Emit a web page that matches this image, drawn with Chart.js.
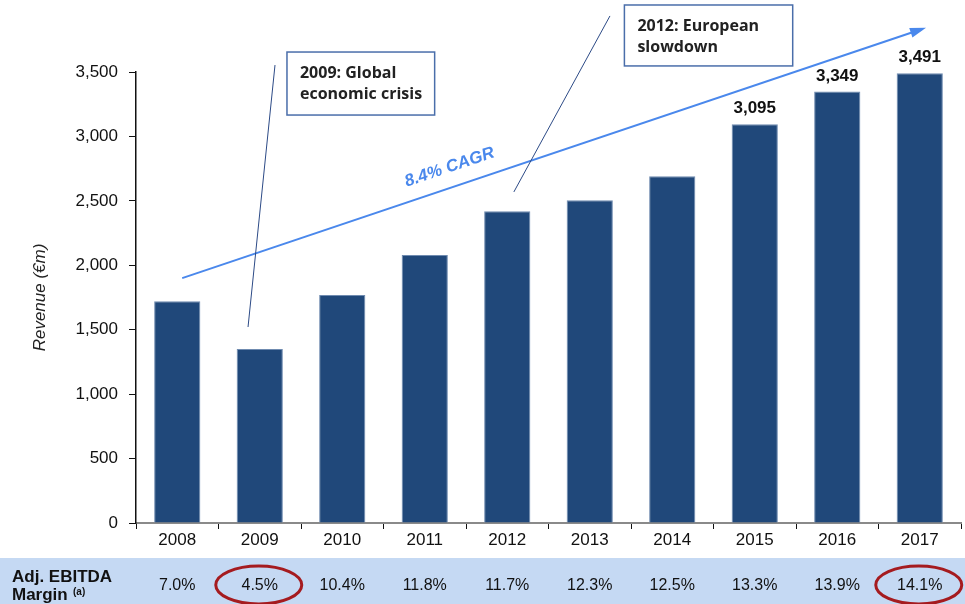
<!DOCTYPE html>
<html>
<head>
<meta charset="utf-8">
<script src="https://cdn.jsdelivr.net/npm/chart.js@4.4.0/dist/chart.umd.min.js"></script>
<style>
  html, body { margin: 0; padding: 0; background: #fff; }
  #wrap { width: 965px; height: 604px; position: relative; }
</style>
</head>
<body>
<div id="wrap"><canvas id="revenueChart"></canvas></div>
<script>
const years = ['2008', '2009', '2010', '2011', '2012', '2013', '2014', '2015', '2016', '2017'];
const revenue = [1720, 1350, 1770, 2080, 2420, 2505, 2690, 3095, 3349, 3491];
const margins = ['7.0%', '4.5%', '10.4%', '11.8%', '11.7%', '12.3%', '12.5%', '13.3%', '13.9%', '14.1%'];
const labelledYears = ['2015', '2016', '2017'];
const circledYears = ['2009', '2017'];
const yTicks = [0, 500, 1000, 1500, 2000, 2500, 3000, 3500];

const FONT = '"Liberation Sans", Arial, sans-serif';

// draws value labels, annotations and the margin row
const extras = {
    id: 'extras',
    afterDatasetsDraw(chart) {
        const ctx = chart.ctx;
        const x = chart.scales.x, y = chart.scales.y;
        const px = i => x.getPixelForValue(i);
        const py = v => y.getPixelForValue(v);
        const meta = chart.getDatasetMeta(0);
        ctx.save();

        // labels above the last bars
        ctx.font = 'bold 17px ' + FONT;
        ctx.fillStyle = '#111';
        ctx.textAlign = 'center';
        ctx.textBaseline = 'bottom';
        meta.data.forEach((bar, i) => {
            if (labelledYears.includes(years[i])) {
                ctx.fillText(revenue[i].toLocaleString('en-US'), bar.x, bar.y - 7);
            }
        });

        // CAGR arrow
        const a0 = { x: px(0.06), y: py(1900) }, a1 = { x: px(9.03), y: py(3834) };
        ctx.strokeStyle = '#4a88ec';
        ctx.fillStyle = '#4a88ec';
        ctx.lineWidth = 2;
        ctx.beginPath();
        ctx.moveTo(a0.x, a0.y);
        ctx.lineTo(a1.x, a1.y);
        ctx.stroke();
        const ang = Math.atan2(a1.y - a0.y, a1.x - a0.x);
        ctx.beginPath();
        ctx.moveTo(a1.x + 4 * Math.cos(ang), a1.y + 4 * Math.sin(ang));
        ctx.lineTo(a1.x - 12 * Math.cos(ang) + 5 * Math.sin(ang), a1.y - 12 * Math.sin(ang) - 5 * Math.cos(ang));
        ctx.lineTo(a1.x - 12 * Math.cos(ang) - 5 * Math.sin(ang), a1.y - 12 * Math.sin(ang) + 5 * Math.cos(ang));
        ctx.closePath();
        ctx.fill();

        ctx.save();
        ctx.translate(px(3.3), py(2760));
        ctx.rotate(ang);
        ctx.font = 'italic bold 17px ' + FONT;
        ctx.textAlign = 'center';
        ctx.textBaseline = 'middle';
        ctx.fillText('8.4% CAGR', 0, 0);
        ctx.restore();

        // callout lines
        ctx.strokeStyle = '#2c4a86';
        ctx.lineWidth = 1;
        ctx.beginPath();
        ctx.moveTo(px(1.185), py(3554));
        ctx.lineTo(px(0.858), py(1521));
        ctx.moveTo(px(5.245), py(3935));
        ctx.lineTo(px(4.08), py(2569));
        ctx.stroke();

        // callout boxes
        const boxes = [
            { x0: 1.33, x1: 3.12, v0: 3655, v1: 3166, lines: ['2009: Global', 'economic crisis'] },
            { x0: 5.42, x1: 7.46, v0: 4020, v1: 3547, lines: ['2012: European', 'slowdown'] }
        ];
        boxes.forEach(b => {
            const l = px(b.x0), r = px(b.x1), t = py(b.v0), btm = py(b.v1);
            ctx.fillStyle = '#fff';
            ctx.fillRect(l, t, r - l, btm - t);
            ctx.strokeStyle = '#4a6eaa';
            ctx.lineWidth = 1.5;
            ctx.strokeRect(l, t, r - l, btm - t);
            ctx.fillStyle = '#222';
            ctx.font = 'bold 16px "Open Sans", sans-serif';
            ctx.textAlign = 'left';
            ctx.textBaseline = 'middle';
            ctx.fillText(b.lines[0], l + 13, t + 21);
            ctx.fillText(b.lines[1], l + 13, t + 42);
        });

        // margin row band
        const bandTop = 558;
        ctx.fillStyle = '#c5d9f3';
        ctx.fillRect(0, bandTop, chart.width, chart.height - bandTop);
        ctx.fillStyle = '#111';
        ctx.font = 'bold 17px ' + FONT;
        ctx.textAlign = 'left';
        ctx.textBaseline = 'middle';
        ctx.fillText('Adj. EBITDA', 12, 577);
        ctx.fillText('Margin', 12, 595);
        ctx.font = 'bold 10px ' + FONT;
        ctx.fillText('(a)', 12 + 61, 592);

        ctx.font = '16px ' + FONT;
        ctx.textAlign = 'center';
        margins.forEach((m, i) => {
            ctx.fillText(m, px(i), 586);
        });

        // circled values
        ctx.strokeStyle = '#a51b1f';
        ctx.lineWidth = 3;
        years.forEach((yr, i) => {
            if (circledYears.includes(yr)) {
                ctx.beginPath();
                ctx.ellipse(px(i) - 1, 585, 43, 19, 0, 0, Math.PI * 2);
                ctx.stroke();
            }
        });
        ctx.restore();
    }
};

new Chart(document.getElementById('revenueChart'), {
    type: 'bar',
    data: {
        labels: years,
        datasets: [{
            label: 'Revenue (€m)',
            data: revenue,
            backgroundColor: '#20487a',
            borderColor: '#6f8bb0',
            borderWidth: 1,
            barPercentage: 0.56,
            categoryPercentage: 1
        }]
    },
    options: {
        responsive: true,
        maintainAspectRatio: false,
        animation: false,
        layout: { padding: { top: 72, right: 4, left: 0, bottom: 0 } },
        plugins: {
            legend: { display: false },
            tooltip: { enabled: false }
        },
        scales: {
            x: {
                afterFit: s => { s.height = 81; },
                grid: { display: true, drawOnChartArea: false, tickLength: 6, color: '#111', offset: true },
                border: { color: '#8a8a8a', width: 2 },
                ticks: { color: '#111', font: { family: FONT, size: 17 }, padding: 1 }
            },
            y: {
                min: 0,
                max: 3500,
                afterFit: s => { s.width = 136; },
                afterBuildTicks: s => { s.ticks = yTicks.map(v => ({ value: v })); },
                grid: { display: true, drawOnChartArea: false, tickLength: 7, color: '#111' },
                border: { color: '#111', width: 1.5 },
                ticks: {
                    color: '#111',
                    font: { family: FONT, size: 17 },
                    padding: 11,
                    callback: v => v.toLocaleString('en-US')
                },
                title: {
                    display: true,
                    text: 'Revenue (€m)',
                    color: '#222',
                    font: { family: FONT, size: 17, style: 'italic' },
                    padding: { top: 30, bottom: 0 }
                }
            }
        }
    },
    plugins: [extras]
});
</script>
</body>
</html>
